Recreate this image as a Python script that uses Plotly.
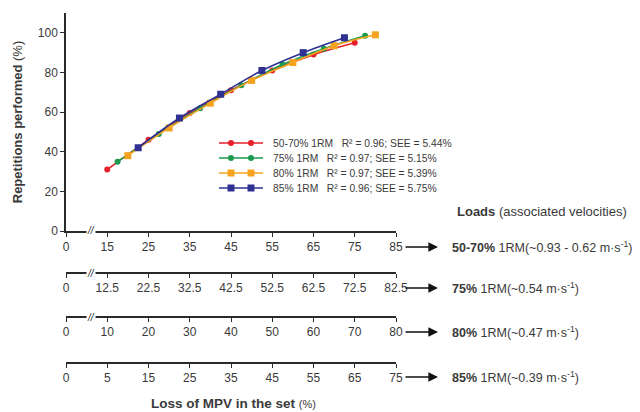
import plotly.graph_objects as go

# ---- data ----
series_names = ["50-70% 1RM", "75% 1RM", "80% 1RM", "85% 1RM"]
series_stats = ["R² = 0.96; SEE = 5.44%", "R² = 0.97; SEE = 5.15%",
                "R² = 0.97; SEE = 5.39%", "R² = 0.96; SEE = 5.75%"]
loss_5070 = [15, 25, 35, 45, 55, 65, 75]
reps_5070 = [31, 46, 59.5, 71, 81, 89, 95]
loss_75 = [15, 25, 35, 45, 55, 65, 75]
reps_75 = [35, 49, 62, 73.5, 84, 92, 98.5]
loss_80 = [15, 25, 35, 45, 55, 65, 75]
reps_80 = [38, 52, 64.5, 76, 85, 93.5, 99]
loss_85 = [12.5, 22.5, 32.5, 42.5, 52.5, 62.5]
reps_85 = [42, 57, 69, 81, 90, 97.5]

ticks_ax1 = [5, 15, 25, 35, 45, 55, 65, 75, 85]
labels_ax1 = ["0", "15", "25", "35", "45", "55", "65", "75", "85"]
ticks_ax2 = [2.5, 12.5, 22.5, 32.5, 42.5, 52.5, 62.5, 72.5, 82.5]
labels_ax2 = ["0", "12.5", "22.5", "32.5", "42.5", "52.5", "62.5", "72.5", "82.5"]
ticks_ax3 = [0, 10, 20, 30, 40, 50, 60, 70, 80]
labels_ax3 = ["0", "10", "20", "30", "40", "50", "60", "70", "80"]
ticks_ax4 = [-5, 5, 15, 25, 35, 45, 55, 65, 75]
labels_ax4 = ["0", "5", "15", "25", "35", "45", "55", "65", "75"]

load_labels = ["<b>50-70%</b> 1RM(~0.93 - 0.62 m·s<sup>-1</sup>)",
               "<b>75%</b> 1RM(~0.54 m·s<sup>-1</sup>)",
               "<b>80%</b> 1RM(~0.47 m·s<sup>-1</sup>)",
               "<b>85%</b> 1RM(~0.39 m·s<sup>-1</sup>)"]

colors = ["#e5202a", "#1b9a4e", "#f5a31f", "#2e3192"]
symbols = ["circle", "circle", "square", "square"]
msizes = [6, 6, 7, 7]

FONT = "Liberation Sans, Arial, sans-serif"
TXT = "#3a3a3a"
AX = "#2a2a2a"

OFF = 8  # page body margin
W, H = 640 - OFF, 412 - OFF
L, R, T, B = 58, 244, 5, 49
plot_w = W - L - R
plot_h = H - T - B

def py(pix):  # screen pixel y -> paper
    return (H - B - (pix - OFF)) / plot_h

def px(pix):  # screen pixel x -> paper
    return (pix - OFF - L) / plot_w

fig = go.Figure()
data = [(loss_5070, reps_5070, "x"), (loss_75, reps_75, "x2"),
        (loss_80, reps_80, "x3"), (loss_85, reps_85, "x4")]
order = [3, 2, 1, 0]
for i in order:
    xs, ys, xa = data[i]
    fig.add_trace(go.Scatter(
        x=xs, y=ys, xaxis=xa, yaxis="y", mode="lines+markers",
        name=series_names[i], showlegend=False,
        line=dict(color=colors[i], width=1.6, shape="spline"),
        marker=dict(color=colors[i], symbol=symbols[i], size=msizes[i]),
    ))

axis_common = dict(showgrid=False, zeroline=False, showline=True, linecolor=AX,
                   linewidth=1.5, ticks="outside", ticklen=4, tickwidth=1.3,
                   tickcolor=AX, tickfont=dict(family=FONT, size=12, color=TXT),
                   tickmode="array", automargin=False)

ax_pos = [py(231), py(273), py(317), py(363)]

fig.update_layout(
    width=W, height=H,
    margin=dict(l=L, r=R, t=T, b=B, autoexpand=False),
    paper_bgcolor="white", plot_bgcolor="white",
    font=dict(family=FONT, color=TXT),
    showlegend=False,
    yaxis=dict(domain=[ax_pos[0], 1], range=[0, 110], tickvals=[0, 20, 40, 60, 80, 100],
               title=dict(text="<b>Repetitions performed</b> (%)",
                          font=dict(family=FONT, size=13, color=TXT), standoff=12),
               anchor="x", **axis_common),
    xaxis=dict(range=[5, 85], tickvals=ticks_ax1, ticktext=labels_ax1, anchor="y",
               **axis_common),
    xaxis2=dict(range=[2.5, 82.5], tickvals=ticks_ax2, ticktext=labels_ax2,
                overlaying="x", anchor="free", position=ax_pos[1], **axis_common),
    xaxis3=dict(range=[0, 80], tickvals=ticks_ax3, ticktext=labels_ax3,
                overlaying="x", anchor="free", position=ax_pos[2], **axis_common),
    xaxis4=dict(range=[-5, 75], tickvals=ticks_ax4, ticktext=labels_ax4,
                overlaying="x", anchor="free", position=ax_pos[3], **axis_common),
)

annotations = []
shapes = []
# custom legend (two-marker glyphs, as in the original)
for i in range(4):
    ry = 143 + 15 * i
    shapes.append(dict(type="line", xref="paper", yref="paper",
                       x0=px(219), x1=px(263), y0=py(ry), y1=py(ry),
                       line=dict(color=colors[i], width=1.6)))
    for cx in (231, 251):
        hs = msizes[i] / 2
        shapes.append(dict(type="circle" if symbols[i] == "circle" else "rect",
                           xref="paper", yref="paper",
                           x0=px(cx - hs), x1=px(cx + hs), y0=py(ry + hs), y1=py(ry - hs),
                           fillcolor=colors[i], line=dict(width=0)))
    annotations.append(dict(xref="paper", yref="paper", x=px(271), y=py(ry),
                            xanchor="left", yanchor="middle", showarrow=False,
                            text=series_names[i] + "&nbsp;&nbsp;&nbsp;" + series_stats[i],
                            font=dict(size=10.3, family=FONT, color=TXT)))
# axis break marks
for k in range(3):
    annotations.append(dict(xref="paper", yref="paper", x=px(86), y=ax_pos[k],
                            yanchor="middle", text="<i>//</i>", showarrow=False, bgcolor="white",
                            font=dict(size=10, color=AX, family=FONT), borderpad=0))
# arrows and load labels
label_rows = [247, 288, 332, 377]
for k in range(4):
    yy = py(label_rows[k])
    annotations.append(dict(xref="paper", yref="paper", x=px(438), y=yy,
                            ax=-34, ay=0, axref="pixel", ayref="pixel", text="",
                            showarrow=True, arrowhead=2, arrowsize=1.2, arrowwidth=1.6,
                            arrowcolor="#111"))
    annotations.append(dict(xref="paper", yref="paper", x=px(450), y=yy,
                            xanchor="left", yanchor="middle", showarrow=False,
                            text=load_labels[k], font=dict(size=12.5, family=FONT, color=TXT)))
annotations.append(dict(xref="paper", yref="paper", x=px(455), y=py(212),
                        xanchor="left", yanchor="middle", showarrow=False,
                        text="<b>Loads</b> (associated velocities)",
                        font=dict(size=13, family=FONT, color=TXT)))
annotations.append(dict(xref="paper", yref="paper", x=px(234), y=py(403),
                        xanchor="center", yanchor="middle", showarrow=False,
                        text="<b>Loss of MPV in the set</b> <span style='font-size:11px'>(%)</span>",
                        font=dict(size=13.5, family=FONT, color=TXT)))
fig.update_layout(annotations=annotations, shapes=shapes)

fig.write_html("out.html")
